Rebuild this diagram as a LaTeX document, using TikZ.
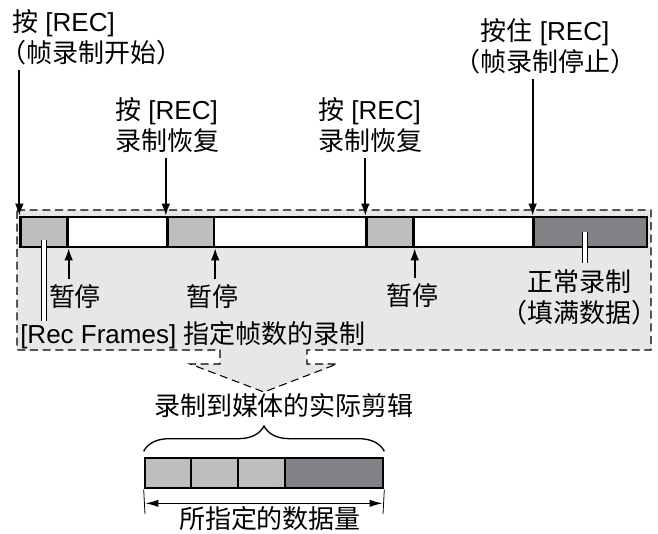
\documentclass[tikz,border=0pt]{standalone}
\usepackage{fontspec}
\setmainfont{Liberation Sans}
\newfontfamily\cjk{Noto Sans CJK SC}
\usetikzlibrary{arrows.meta,decorations.pathreplacing}
\definecolor{zoneGray}{HTML}{E6E7E8}
\definecolor{frameGray}{HTML}{BCBEC0}
\definecolor{normalGray}{HTML}{808285}
\newcommand{\lpar}{\kern-0.45em（}
\newcommand{\rpar}{）\kern-0.45em}

\begin{document}
\begin{tikzpicture}[
        x=0.75pt, y=-0.75pt,
        font=\fontsize{19.5}{23}\selectfont,
        lbl/.style={inner sep=0pt, align=center},
        frameBox/.style={rectangle, draw, line width=2pt, fill=frameGray, minimum width=35pt, minimum height=22.5pt, inner sep=0pt},
        normalBox/.style={frameBox, fill=normalGray, minimum width=84.75pt},
        stripBox/.style={rectangle, draw, line width=0.8pt, fill=white, minimum width=384.75pt, minimum height=22.5pt, inner sep=0pt},
        pressArrow/.style={line width=1.3pt, shorten <=4pt, -{Latex[length=9pt,width=6.5pt]}},
        gapLine/.style={draw=black, line width=0.6pt, double=white, double distance=3pt},
        sizeArrow/.style={line width=1.2pt, {Latex[length=10pt,width=5.5pt]}-{Latex[length=10pt,width=5.5pt]}},
        zone/.style={draw, fill=zoneGray, line width=0.8pt, dash pattern=on 6pt off 3.5pt}
    ]
        \useasboundingbox (0,0) rectangle (658,533);

        % grey zone with funnel
        \draw[zone] (17,210) -- (651,210) -- (651,350) -- (307,350) -- (307,364) -- (337,364)
            -- (264,392) -- (190,364) -- (220,364) -- (220,350) -- (17,350) -- cycle;

        % recording strip
        \node[stripBox] (strip) at (276.5,232) {};
        \node[frameBox] (f1) at (44,232) {};
        \node[frameBox] (f2) at (190.5,232) {};
        \node[frameBox] (f3) at (390,232) {};
        \node[normalBox] (f4) at (590.5,232) {};

        % labels
        \node[lbl, align=left, anchor=west] (pressStart) at (12,37) {{\cjk 按} [REC]\\{\cjk \lpar 帧录制开始\rpar}};
        \node[lbl, align=left, anchor=west] (resume1) at (115,125) {{\cjk 按} [REC]\\{\cjk 录制恢复}};
        \node[lbl, align=left, anchor=west] (resume2) at (318,125) {{\cjk 按} [REC]\\{\cjk 录制恢复}};
        \node[lbl] (holdStop) at (545,46) {{\cjk 按住} [REC]\\{\cjk \lpar 帧录制停止\rpar}};
        \node[lbl] (pause1) at (75,297) {\cjk 暂停};
        \node[lbl] (pause2) at (212,297) {\cjk 暂停};
        \node[lbl] (pause3) at (412,296) {\cjk 暂停};
        \node[lbl] (normalLbl) at (579,297) {{\cjk 正常录制}\\{\cjk \lpar 填满数据\rpar}};
        \node[lbl, anchor=west] (recFrames) at (20,335) {[Rec Frames] {\cjk 指定帧数的录制}};
        \node[lbl] (actualClip) at (284,406) {\cjk 录制到媒体的实际剪辑};

        \draw[pressArrow] (f1.north west |- pressStart.south) -- (f1.north west);
        \draw[pressArrow] (f2.north west |- resume1.south) -- (f2.north west);
        \draw[pressArrow] (f3.north west |- resume2.south) -- (f3.north west);
        \draw[pressArrow] (f4.north west |- holdStop.south) -- (f4.north west);
        \draw[pressArrow] (f1.south east |- pause1.north) -- (f1.south east);
        \draw[pressArrow] (f2.south east |- pause2.north) -- (f2.south east);
        \draw[pressArrow] (f3.south east |- pause3.north) -- (f3.south east);

        \draw[gapLine] ([yshift=-6pt]f1.center) -- (f1.center |- recFrames.north);
        \draw[gapLine, shorten >=5pt] ([xshift=-4pt]f4.center) -- ([xshift=-4pt]f4.center |- normalLbl.north);

        % clip on media
        \node[frameBox, minimum width=34.5pt] (c1) at (168,473) {};
        \node[frameBox, minimum width=35.25pt] (c2) at (214.5,473) {};
        \node[frameBox, minimum width=35.25pt] (c3) at (261.5,473) {};
        \node[normalBox, minimum width=73.5pt] (c4) at (334,473) {};

        \draw[line width=1pt, decorate, decoration={brace, amplitude=19pt}]
            ([yshift=4pt]c1.north west) -- ([yshift=4pt]c4.north east);

        \coordinate (tickL) at (145,514);
        \coordinate (tickR) at (383,514);
        \draw[line width=0.6pt] (c1.south west) -- (tickL);
        \draw[line width=0.6pt] (c4.south east) -- (tickR);
        \draw[sizeArrow] ([yshift=8pt]tickL) -- ([yshift=8pt]tickR);
        \node[lbl] (dataAmount) at (270,519) {\cjk 所指定的数据量};
    \end{tikzpicture}
\end{document}
